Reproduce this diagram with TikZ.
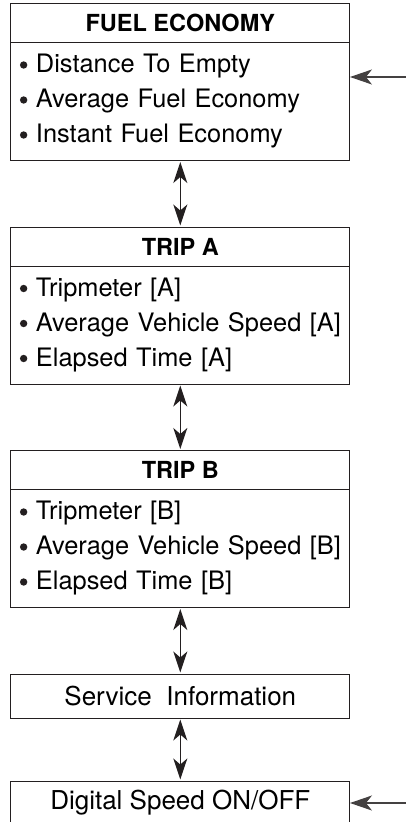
\documentclass[tikz,border=0pt]{standalone}
\usepackage{fontspec}
\setmainfont{TeX Gyre Heros}
\usetikzlibrary{arrows.meta,positioning}
\definecolor{ink}{HTML}{231F20}
\newcommand\entry{\hspace*{25.3pt}}

\begin{document}
\begin{tikzpicture}[
  x=1pt,y=1pt,
  line join=miter,
  node distance=66.5pt,
  head/.style={draw=ink,line width=1pt,outer sep=0pt,minimum width=339.3pt,
               minimum height=39pt,inner sep=0pt,
               font=\bfseries\fontsize{23.5}{28}\selectfont},
  items/.style={draw=ink,line width=1pt,outer sep=0pt,text width=339.3pt,
                minimum height=118pt,align=left,inner xsep=0pt,inner ysep=0pt,
                font=\fontsize{25.4}{35}\selectfont},
  single/.style={draw=ink,line width=1pt,outer sep=0pt,minimum width=339.3pt,
                 minimum height=44pt,inner sep=0pt,font=\fontsize{26}{31}\selectfont},
  dot/.style={fill=ink},
  link/.style={{Stealth[length=21pt,width=14pt,inset=6pt]}-{Stealth[length=21pt,width=14pt,inset=6pt]},
               line width=1.5pt,draw=ink,shorten <=1.5pt,shorten >=1.5pt},
  feed/.style={-{Stealth[length=22pt,width=15pt,inset=6pt]},line width=1.3pt,draw=ink!85}
]
\clip (0,0) rectangle (406,-822);
% fuel economy group
\node[head] (fuelhead) at (180.3,-23) {FUEL ECONOMY};
\node[items,below=0pt of fuelhead] (fuelbody) {\entry Distance To Empty\\\entry Average Fuel Economy\\\entry Instant Fuel Economy};
% trip A group
\node[head,below=of fuelbody] (tripahead) {TRIP A};
\node[items,below=0pt of tripahead] (tripabody) {\entry Tripmeter [A]\\\entry Average Vehicle Speed [A]\\\entry Elapsed Time [A]};
% trip B group
\node[head,below=of tripabody] (tripbhead) {TRIP B};
\node[items,below=0pt of tripbhead] (tripbbody) {\entry Tripmeter [B]\\\entry Average Vehicle Speed [B]\\\entry Elapsed Time [B]};
% single screens
\node[single,below=of tripbbody] (service) {Service\ \ Information};
\node[single,below=63pt of service] (digital) {Digital Speed ON/OFF};
% bullets
\foreach \grp in {fuelbody,tripabody,tripbbody}
  \foreach \row in {0,1,2}
    \fill[dot] ([shift={(13,-22.5-35*\row)}]\grp.north west) circle (3.7);
% switch inputs
\coordinate (fuelfeed) at (406,-77);
\coordinate (digitalfeed) at (406,-803);
\draw[link] (fuelbody.south)--(tripahead.north);
\draw[link] (tripabody.south)--(tripbhead.north);
\draw[link] (tripbbody.south)--(service.north);
\draw[link] (service.south)--(digital.north);
\draw[feed] (fuelfeed)--(fuelfeed-|fuelbody.east);
\draw[feed] (digitalfeed)--(digitalfeed-|digital.east);
\end{tikzpicture}
\end{document}
